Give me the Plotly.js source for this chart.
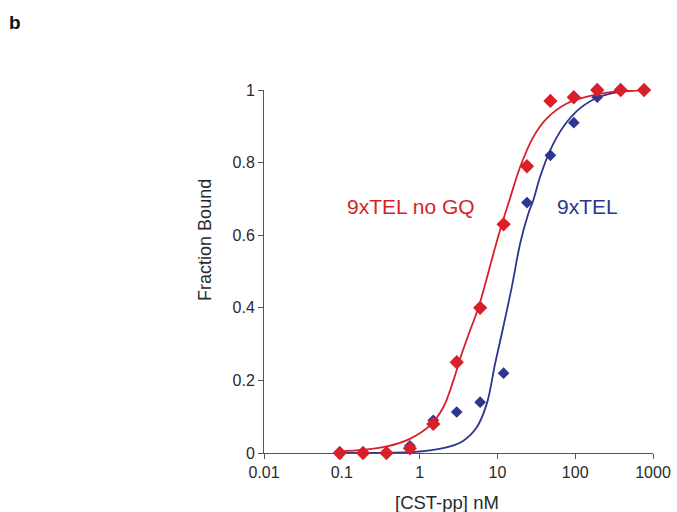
<!DOCTYPE html>
<html>
<head>
<meta charset="utf-8">
<script src="https://cdn.plot.ly/plotly-3.0.1.min.js"></script>
<style>html,body{margin:0;padding:0;background:#fff;}#chart{width:677px;height:512px;}</style>
</head>
<body>
<div id="chart"></div>
<script>
// Measured concentrations (nM), two-fold dilution series
const concentrations = [0.094, 0.1875, 0.375, 0.75, 1.5, 3, 6, 12, 24, 48, 96, 192, 384, 768];
// Fraction bound, 9xTEL no GQ (red)
const noGQBound = [0, 0, 0, 0.013, 0.08, 0.25, 0.40, 0.63, 0.79, 0.97, 0.98, 1.0, 1.0, 1.0];
// Fraction bound, 9xTEL (blue)
const telBound = [0, 0, 0, 0.02, 0.09, 0.113, 0.14, 0.22, 0.69, 0.82, 0.91, 0.98, 1.0, 1.0];

// Fitted curves
const noGQFitX = [0.094, 0.19, 0.38, 0.75, 1.36, 2.02, 2.72, 3.49, 4.46, 5.7, 9.15, 11.4, 14.3, 19.6, 29.0, 43.2, 78, 171, 378, 768];
const noGQFitY = [0.004, 0.009, 0.018, 0.039, 0.076, 0.126, 0.20, 0.274, 0.338, 0.40, 0.559, 0.63, 0.697, 0.788, 0.871, 0.922, 0.963, 0.986, 0.997, 1.0];
const telFitX = [0.094, 0.75, 1.36, 2.47, 3.66, 5.43, 7.31, 9.34, 11.4, 15.3, 19.6, 25.0, 29.0, 35.4, 47.6, 70.5, 116, 209, 378, 768];
const telFitY = [0, 0.002, 0.007, 0.018, 0.034, 0.071, 0.136, 0.246, 0.329, 0.457, 0.577, 0.66, 0.697, 0.761, 0.834, 0.899, 0.95, 0.982, 0.995, 1.0];

// Axis ticks
const xTickVals = [0.01, 0.1, 1, 10, 100, 1000];
const xTickText = ['0.01', '0.1', '1', '10', '100', '1000'];
const yTickVals = [0, 0.2, 0.4, 0.6, 0.8, 1];
const yTickText = ['0', '0.2', '0.4', '0.6', '0.8', '1'];

const RED = '#d81f2a';
const BLUE = '#2c3590';
const FONT = 'Liberation Sans, Arial, sans-serif';

const traces = [
  {x: telFitX, y: telFitY, mode: 'lines', line: {color: BLUE, width: 1.8, shape: 'spline', smoothing: 1}, cliponaxis: false, hoverinfo: 'skip'},
  {x: concentrations, y: telBound, mode: 'markers', marker: {symbol: 'diamond', size: 9, color: BLUE}, cliponaxis: false},
  {x: noGQFitX, y: noGQFitY, mode: 'lines', line: {color: RED, width: 1.8, shape: 'spline', smoothing: 1}, cliponaxis: false, hoverinfo: 'skip'},
  {x: concentrations, y: noGQBound, mode: 'markers', marker: {symbol: 'diamond', size: 11, color: RED}, cliponaxis: false}
];

const layout = {
  width: 677, height: 512,
  margin: {l: 264, r: 24, t: 90, b: 59},
  paper_bgcolor: '#ffffff',
  plot_bgcolor: '#ffffff',
  showlegend: false,
  font: {family: FONT, color: '#2a2a2a', size: 16},
  title: {text: '<b>b</b>', x: 9/677, xref: 'container', xanchor: 'left', y: 1 - 22/512, yref: 'container', yanchor: 'middle', font: {family: FONT, size: 19, color: '#111111'}},
  xaxis: {
    type: 'log', range: [-2, 3],
    tickvals: xTickVals, ticktext: xTickText,
    ticks: 'outside', ticklen: 5, tickwidth: 1, tickcolor: '#555555',
    showline: true, linecolor: '#555555', linewidth: 1,
    showgrid: false, zeroline: false,
    tickfont: {family: FONT, size: 16, color: '#2a2a2a'}
  },
  yaxis: {
    range: [0, 1],
    tickvals: yTickVals, ticktext: yTickText,
    ticks: 'outside', ticklen: 5, tickwidth: 1, tickcolor: '#555555',
    showline: true, linecolor: '#555555', linewidth: 1,
    showgrid: false, zeroline: false,
    tickfont: {family: FONT, size: 16, color: '#2a2a2a'}
  },
  annotations: [
    {text: '[CST-pp] nM', xref: 'paper', yref: 'paper', x: 0.470, y: -0.135, xanchor: 'center', yanchor: 'middle', showarrow: false, font: {family: FONT, size: 18.5, color: '#2a2a2a'}},
    {text: 'Fraction Bound', xref: 'paper', yref: 'paper', x: -0.1517, y: 0.587, xanchor: 'center', yanchor: 'middle', textangle: -90, showarrow: false, font: {family: FONT, size: 18, color: '#2a2a2a'}},
    {text: '9xTEL no GQ', xref: 'paper', yref: 'paper', x: 0.378, y: 0.680, xanchor: 'center', yanchor: 'middle', showarrow: false, font: {family: FONT, size: 21, color: RED}},
    {text: '9xTEL', xref: 'paper', yref: 'paper', x: 0.832, y: 0.680, xanchor: 'center', yanchor: 'middle', showarrow: false, font: {family: FONT, size: 21, color: BLUE}}
  ]
};

Plotly.newPlot('chart', traces, layout, {displayModeBar: false, staticPlot: true});
</script>
</body>
</html>
